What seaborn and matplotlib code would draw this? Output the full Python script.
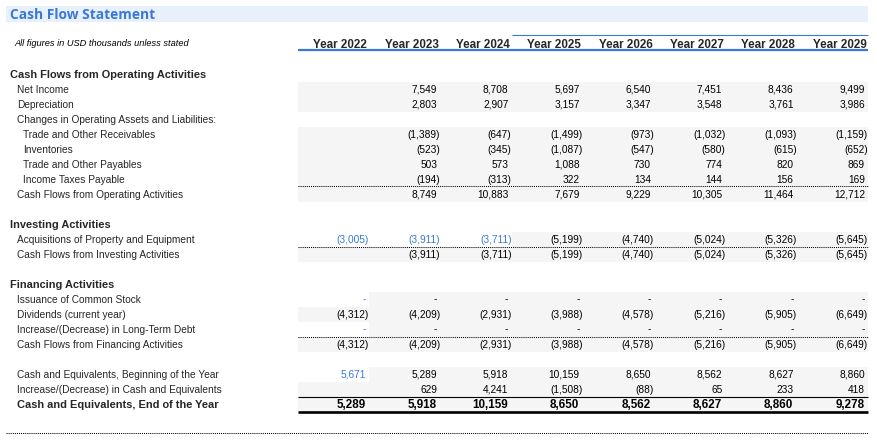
import numpy as np
import pandas as pd
import matplotlib
matplotlib.use("Agg")
import matplotlib.pyplot as plt
from matplotlib.colors import ListedColormap
from matplotlib.patches import Rectangle
import seaborn as sns

# ---------------- data ----------------
title = "Cash Flow Statement"
note = "All figures in USD thousands unless stated"
years = ["Year 2022", "Year 2023", "Year 2024", "Year 2025",
         "Year 2026", "Year 2027", "Year 2028", "Year 2029"]

net_income = [None, 7549, 8708, 5697, 6540, 7451, 8436, 9499]
depreciation = [None, 2803, 2907, 3157, 3347, 3548, 3761, 3986]
receivables = [None, -1389, -647, -1499, -973, -1032, -1093, -1159]
inventories = [None, -523, -345, -1087, -547, -580, -615, -652]
payables = [None, 503, 573, 1088, 730, 774, 820, 869]
income_taxes = [None, -194, -313, 322, 134, 144, 156, 169]
cf_operating = [None, 8749, 10883, 7679, 9229, 10305, 11464, 12712]
capex = [-3005, -3911, -3711, -5199, -4740, -5024, -5326, -5645]
cf_investing = [None, -3911, -3711, -5199, -4740, -5024, -5326, -5645]
stock_issued = [0, 0, 0, 0, 0, 0, 0, 0]
dividends = [-4312, -4209, -2931, -3988, -4578, -5216, -5905, -6649]
lt_debt = [0, 0, 0, 0, 0, 0, 0, 0]
cf_financing = [-4312, -4209, -2931, -3988, -4578, -5216, -5905, -6649]
cash_begin = [5671, 5289, 5918, 10159, 8650, 8562, 8627, 8860]
cash_change = [None, 629, 4241, -1508, -88, 65, 233, 418]
cash_end = [5289, 5918, 10159, 8650, 8562, 8627, 8860, 9278]

# row definitions: (label, kind, indent, values, number of leading input columns)
rows = [
    ("Cash Flows from Operating Activities", "header", 0, None, 0),
    ("Net Income", "data", 1, net_income, 0),
    ("Depreciation", "data", 1, depreciation, 0),
    ("Changes in Operating Assets and Liabilities:", "label", 1, None, 0),
    ("Trade and Other Receivables", "data", 2, receivables, 0),
    ("Inventories", "data", 2, inventories, 0),
    ("Trade and Other Payables", "data", 2, payables, 0),
    ("Income Taxes Payable", "data", 2, income_taxes, 0),
    ("Cash Flows from Operating Activities", "data", 1, cf_operating, 0),
    ("", "blank", 0, None, 0),
    ("Investing Activities", "header", 0, None, 0),
    ("Acquisitions of Property and Equipment", "data", 1, capex, 3),
    ("Cash Flows from Investing Activities", "data", 1, cf_investing, 0),
    ("", "blank", 0, None, 0),
    ("Financing Activities", "header", 0, None, 0),
    ("Issuance of Common Stock", "data", 1, stock_issued, 1),
    ("Dividends (current year)", "data", 1, dividends, 0),
    ("Increase/(Decrease) in Long-Term Debt", "data", 1, lt_debt, 1),
    ("Cash Flows from Financing Activities", "data", 1, cf_financing, 0),
    ("", "blank", 0, None, 0),
    ("Cash and Equivalents, Beginning of the Year", "data", 1, cash_begin, 1),
    ("Increase/(Decrease) in Cash and Equivalents", "data", 1, cash_change, 0),
    ("Cash and Equivalents, End of the Year", "total", 1, cash_end, 0),
]
dotted_above = [8, 12, 18]
solid_above = [22]

# ---------------- style ----------------
sns.set_theme(style="white")
plt.rcParams["font.family"] = ["Liberation Sans", "DejaVu Sans"]

W, H = 877, 444
X0 = 298.0          # left edge of first year column
COL_W = 71.3        # width of a year column
ROW0 = 74.0         # centre of first row
ROW_H = 15.0
NCOL = len(years)
NROW = len(rows)

BLUE = "#3A78D6"
GRAY = "#F5F5F5"
TITLE_BG = "#E7F0FB"

fig = plt.figure(figsize=(W / 100, H / 100), dpi=100)

# background shading via seaborn heatmap
shade = np.full((NROW, NCOL), np.nan)
for r, (lab, kind, ind, vals, n_in) in enumerate(rows):
    if kind in ("data", "total"):
        shade[r, n_in:] = 1.0
shade_df = pd.DataFrame(shade, columns=years)
top = ROW0 - ROW_H / 2
ax_bg = fig.add_axes([X0 / W, 1 - (top + NROW * ROW_H) / H,
                      NCOL * COL_W / W, NROW * ROW_H / H])
sns.heatmap(shade_df, ax=ax_bg, cmap=ListedColormap([GRAY]), vmin=0, vmax=1,
            mask=shade_df.isna(), cbar=False, xticklabels=False,
            yticklabels=False, linewidths=0)
ax_bg.set_axis_off()

# overlay axes in pixel coordinates
ax = fig.add_axes([0, 0, 1, 1], zorder=2)
ax.set_xlim(0, W)
ax.set_ylim(H, 0)
ax.set_axis_off()
ax.patch.set_alpha(0)

right_edge = X0 + NCOL * COL_W

# title bar
ax.add_patch(Rectangle((6, 6), right_edge - 6, 16, facecolor=TITLE_BG,
                       edgecolor="none", zorder=0))
ax.text(9.5, 18.8, title, fontsize=9.9, fontweight="bold", color=BLUE,
        family=["Open Sans", "DejaVu Sans"], va="baseline", ha="left")

# header
ax.text(14, 46, note, fontsize=6.7, style="italic", color="black",
        va="baseline", ha="left")
for i, y in enumerate(years):
    ax.text(X0 + (i + 1) * COL_W - 2, 47.5, y, fontsize=8.4,
            fontweight="bold", ha="right", va="baseline")
ax.plot([X0, right_edge], [50.5, 50.5], color=BLUE, lw=1.6,
        solid_capstyle="butt")
ax.plot([X0 + 3 * COL_W, right_edge], [35.5, 35.5], color=BLUE, lw=0.8,
        solid_capstyle="butt")


def fmt(v):
    if v is None:
        return "", 0
    if v == 0:
        return "-", 3.5
    if v < 0:
        return f"({abs(v):,})", 0.5
    return f"{v:,}", 3.5


indent_x = {0: 10, 1: 17, 2: 23}
for r, (lab, kind, ind, vals, n_in) in enumerate(rows):
    yc = ROW0 + r * ROW_H
    yb = yc + 3.6
    if kind == "header":
        ax.text(indent_x[ind], yb, lab, fontsize=7.9, fontweight="bold",
                ha="left", va="baseline")
    elif kind == "total":
        ax.text(indent_x[ind], yb, lab, fontsize=7.9, fontweight="bold",
                ha="left", va="baseline")
    elif kind in ("data", "label"):
        ax.text(indent_x[ind], yb, lab, fontsize=7.3, ha="left",
                va="baseline")
    if vals is not None:
        for c, v in enumerate(vals):
            s, off = fmt(v)
            if not s:
                continue
            color = BLUE if c < n_in else "black"
            xr = X0 + (c + 1) * COL_W - off
            if kind == "total":
                ax.text(xr - 0.5, yb + 0.3, s, fontsize=8.4,
                        fontweight="bold", ha="right", va="baseline",
                        color=color)
            else:
                ax.text(xr, yb, s, fontsize=7.3, ha="right", va="baseline",
                        color=color)

for r in dotted_above:
    yl = ROW0 + (r - 0.5) * ROW_H
    ax.plot([X0, right_edge], [yl, yl], color="black", lw=0.75,
            linestyle=(0, (1, 1)))
for r in solid_above:
    yl = ROW0 + (r - 0.5) * ROW_H
    ax.plot([X0, right_edge], [yl, yl], color="black", lw=0.8,
            solid_capstyle="butt")
y_bottom = ROW0 + (NROW - 0.5) * ROW_H
ax.plot([X0, right_edge], [y_bottom, y_bottom], color="black", lw=1.9,
        solid_capstyle="butt")
ax.plot([6, right_edge], [433, 433], color="black", lw=0.75,
        linestyle=(0, (1, 1)))

fig.savefig("out.png", dpi=100)
